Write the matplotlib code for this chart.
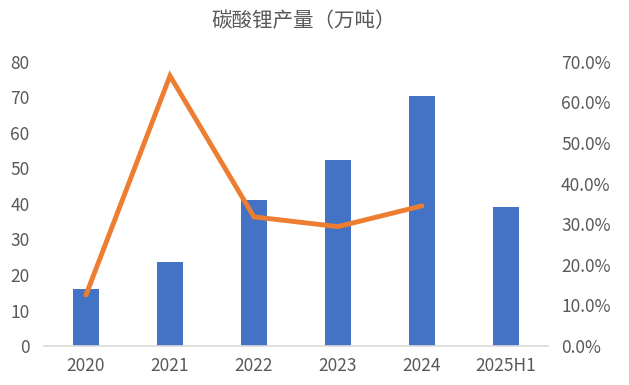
import matplotlib.pyplot as plt
import numpy as np
from matplotlib.ticker import FuncFormatter

plt.rcParams['font.family'] = ['Noto Sans CJK SC', 'DejaVu Sans']

years = ['2020', '2021', '2022', '2023', '2024', '2025H1']
output = [16.0, 23.7, 41.1, 52.2, 70.4, 39.0]   # 万吨
growth = [12.6, 66.5, 31.8, 29.4, 34.5]          # % yoy, no value for 2025H1

fig = plt.figure(figsize=(6.29, 3.85), dpi=100)
ax = fig.add_axes([0.070, 0.101, 0.801, 0.739])
x = np.arange(len(years))
ax.bar(x, output, width=0.31, color='#4472C4', zorder=2)
ax.set_xlim(-0.5, len(years) - 0.5)
ax.set_ylim(0, 80)
ax.set_yticks(np.arange(0, 81, 10))
ax.set_xticks(x)
ax.set_xticklabels(years)

ax2 = ax.twinx()
ax2.plot(x[:len(growth)], growth, color='#ED7D31', lw=3.5,
         solid_capstyle='round', solid_joinstyle='miter', zorder=3)
ax2.set_ylim(0, 70)
ax2.set_yticks(np.arange(0, 71, 10))
ax2.yaxis.set_major_formatter(FuncFormatter(lambda v, p: '%.1f%%' % v))

for a in (ax, ax2):
    for s in a.spines.values():
        s.set_visible(False)
    a.tick_params(length=0, labelsize=12.5, colors='#595959')
ax.tick_params(axis='y', pad=10.5)
ax2.tick_params(axis='y', pad=9.5)
ax.spines['bottom'].set_visible(True)
ax.spines['bottom'].set_color('#D9D9D9')
ax.spines['bottom'].set_linewidth(1.2)
ax.tick_params(axis='x', pad=8)

fig.text(0.483, 0.945, '碳酸锂产量（万吨）', ha='center', va='center',
         fontsize=14.8, color='#595959')

plt.savefig('out.png', dpi=100)
